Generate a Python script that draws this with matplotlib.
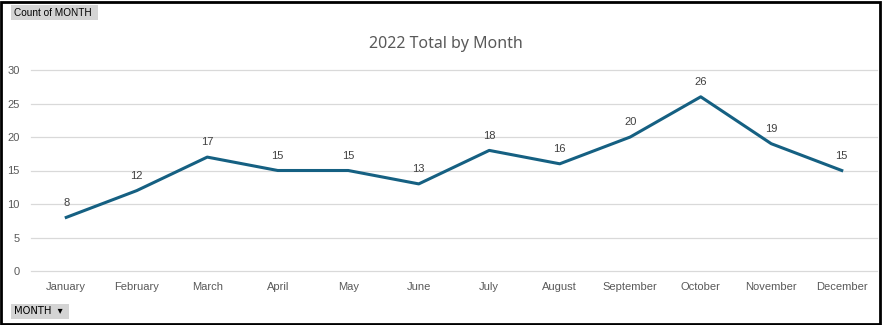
import matplotlib.pyplot as plt
from matplotlib.patches import Rectangle

months = ["January", "February", "March", "April", "May", "June",
          "July", "August", "September", "October", "November", "December"]
counts = [8, 12, 17, 15, 15, 13, 18, 16, 20, 26, 19, 15]
y_ticks = [0, 5, 10, 15, 20, 25, 30]

W, H = 882, 325
fig = plt.figure(figsize=(W / 100, H / 100), dpi=100)
fig.patch.set_facecolor("white")

# plot area in pixel coordinates
left, right, top, bottom = 31, 877, 70, 271
ax = fig.add_axes([left / W, 1 - bottom / H, (right - left) / W, (bottom - top) / H])
ax.set_xlim(-0.5, len(months) - 0.5)
ax.set_ylim(0, 30)

x = list(range(len(months)))
ax.plot(x, counts, color="#156082", linewidth=2.2, solid_joinstyle="round", zorder=3)
for xi, v in zip(x, counts):
    ax.annotate(str(v), (xi, v), xytext=(0, 7), textcoords="offset points",
                ha="center", va="bottom", fontsize=8, color="#404040",
                family="Liberation Sans")

ax.set_yticks(y_ticks)
ax.set_xticks(x)
ax.set_xticklabels(months)
ax.grid(axis="y", color="#d9d9d9", linewidth=0.9)
for gl in ax.get_ygridlines():
    gl.set_clip_on(False)
ax.set_axisbelow(True)
for s in ax.spines.values():
    s.set_visible(False)
ax.tick_params(length=0, labelsize=8, colors="#595959")
ax.tick_params(axis="y", pad=8)
ax.tick_params(axis="x", pad=8)
for lbl in ax.get_xticklabels() + ax.get_yticklabels():
    lbl.set_family("Liberation Sans")

fig.text(446 / W, 1 - 44 / H, "2022 Total by Month", ha="center", va="center",
         fontsize=11.5, color="#595959", family="Noto Sans")

# field buttons
fig.patches.append(Rectangle((11 / W, 1 - 20 / H), 87 / W, 15 / H,
                             transform=fig.transFigure, facecolor="#d4d4d4",
                             edgecolor="none"))
fig.text(14 / W, 1 - 12.5 / H, "Count of MONTH", ha="left", va="center",
         fontsize=7.2, color="black", family="Liberation Sans")
fig.patches.append(Rectangle((11 / W, 1 - 319 / H), 58 / W, 15 / H,
                             transform=fig.transFigure, facecolor="#d4d4d4",
                             edgecolor="none"))
fig.text(14 / W, 1 - 311.5 / H, "MONTH  \u25be", ha="left", va="center",
         fontsize=7.2, color="black", family="DejaVu Sans")

# outer border
fig.patches.append(Rectangle((1 / W, 1.5 / H), (W - 3) / W, (H - 3.5) / H,
                             transform=fig.transFigure, facecolor="none",
                             edgecolor="black", linewidth=2))

fig.savefig("out.png", dpi=100)
